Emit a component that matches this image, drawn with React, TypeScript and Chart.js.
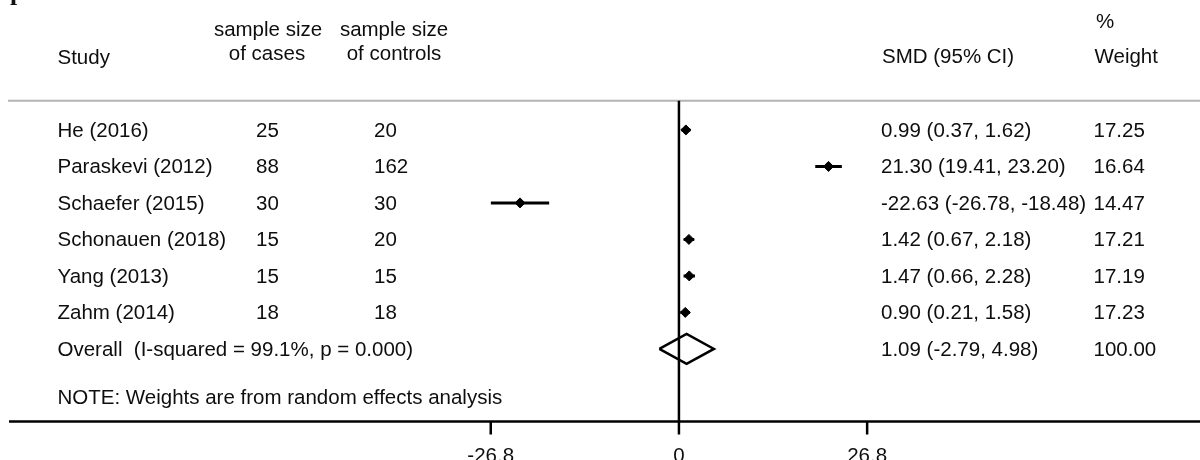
import { useEffect, useRef } from "react";
import { Chart, registerables } from "chart.js";

Chart.register(...registerables);

// Study-level data
const studies = [
  "He (2016)",
  "Paraskevi (2012)",
  "Schaefer (2015)",
  "Schonauen (2018)",
  "Yang (2013)",
  "Zahm (2014)",
];
const casesN = [25, 88, 30, 15, 15, 18];
const controlsN = [20, 162, 30, 20, 15, 18];
const smd = [0.99, 21.3, -22.63, 1.42, 1.47, 0.9];
const smdLower = [0.37, 19.41, -26.78, 0.67, 0.66, 0.21];
const smdUpper = [1.62, 23.2, -18.48, 2.18, 2.28, 1.58];
const weights = [17.25, 16.64, 14.47, 17.21, 17.19, 17.23];

// Pooled (random effects) estimate
const overallSmd = 1.09;
const overallLower = -2.79;
const overallUpper = 4.98;
const overallWeight = 100.0;
const overallLabel = "Overall  (I-squared = 99.1%, p = 0.000)";
const noteLabel = "NOTE: Weights are from random effects analysis";

// Axis ticks
const xTicks = [-26.8, 0, 26.8];

const FONT = '"Liberation Sans", Arial, Helvetica, sans-serif';
const TEXT = "#0e0e0e";
const SIZE = "20.5px";

const fmt = (v: number) => v.toFixed(2);

const forestPlugin = {
  id: "forestLayout",
  beforeDatasetsDraw(chart: any) {
    const { ctx, chartArea, scales } = chart;
    const x = scales.x;
    const y = scales.y;
    ctx.save();
    // header rule
    ctx.strokeStyle = "#b4b4b4";
    ctx.lineWidth = 2;
    ctx.beginPath();
    ctx.moveTo(8, y.getPixelForValue(-0.8));
    ctx.lineTo(chart.width, y.getPixelForValue(-0.8));
    ctx.stroke();
    // line of no effect
    ctx.strokeStyle = "#000";
    ctx.lineWidth = 2.5;
    ctx.beginPath();
    ctx.moveTo(x.getPixelForValue(0), y.getPixelForValue(-0.8));
    ctx.lineTo(x.getPixelForValue(0), chartArea.bottom);
    ctx.stroke();
    ctx.restore();
  },
  afterDraw(chart: any) {
    const { ctx, chartArea, scales } = chart;
    const x = scales.x;
    const y = scales.y;
    ctx.save();

    // bottom axis
    ctx.strokeStyle = "#000";
    ctx.lineWidth = 2.5;
    ctx.beginPath();
    ctx.moveTo(chartArea.left, chartArea.bottom);
    ctx.lineTo(chartArea.right, chartArea.bottom);
    ctx.stroke();
    ctx.fillStyle = TEXT;
    ctx.font = `${SIZE} ${FONT}`;
    ctx.textAlign = "center";
    ctx.textBaseline = "alphabetic";
    xTicks.forEach((t) => {
      const px = x.getPixelForValue(t);
      ctx.beginPath();
      ctx.moveTo(px, chartArea.bottom);
      ctx.lineTo(px, chartArea.bottom + 13);
      ctx.stroke();
      ctx.fillText(String(t), px, chartArea.bottom + 40);
    });

    // fragment of the caption above the panel
    ctx.textAlign = "left";
    ctx.font = `bold 26px "Liberation Serif", serif`;
    ctx.fillStyle = "#111";
    ctx.fillText("p", 10, 0);

    // column headers
    ctx.fillStyle = TEXT;
    ctx.font = `${SIZE} ${FONT}`;
    ctx.textAlign = "left";
    ctx.fillText("Study", 57.5, 64);
    ctx.fillText("SMD (95% CI)", 882, 63);
    ctx.fillText("Weight", 1094.5, 63);
    ctx.fillText("%", 1096, 28);
    ctx.textAlign = "center";
    ctx.fillText("sample size", 268, 36);
    ctx.fillText("of cases", 267, 60);
    ctx.fillText("sample size", 394, 36);
    ctx.fillText("of controls", 394, 60);

    // study rows
    ctx.textAlign = "left";
    studies.forEach((s, i) => {
      const base = y.getPixelForValue(i) + 7;
      ctx.fillText(s, 57.5, base);
      ctx.fillText(String(casesN[i]), 256, base);
      ctx.fillText(String(controlsN[i]), 374, base);
      ctx.fillText(
        `${fmt(smd[i])} (${fmt(smdLower[i])}, ${fmt(smdUpper[i])})`,
        881,
        base
      );
      ctx.fillText(fmt(weights[i]), 1093.5, base);
    });

    // pooled row
    const ob = y.getPixelForValue(studies.length) + 7;
    ctx.fillText(overallLabel, 57.5, ob);
    ctx.fillText(
      `${fmt(overallSmd)} (${fmt(overallLower)}, ${fmt(overallUpper)})`,
      881,
      ob
    );
    ctx.fillText(fmt(overallWeight), 1093.5, ob);

    // footnote
    ctx.fillText(noteLabel, 57.5, y.getPixelForValue(studies.length + 1.32) + 7);

    ctx.restore();
  },
};

export default function App() {
  const ref = useRef<HTMLCanvasElement>(null);

  useEffect(() => {
    document.body.style.margin = "0";
    const canvas = ref.current;
    if (!canvas) return;

    const overallRow = studies.length;
    const diamondHalf = 0.41;

    const ciSets = studies.map((s, i) => ({
      label: s,
      data: [
        { x: smdLower[i], y: i },
        { x: smdUpper[i], y: i },
      ],
      showLine: true,
      borderColor: "#000",
      borderWidth: 3,
      pointRadius: 0,
      borderCapStyle: "butt",
    }));

    const chart = new Chart(canvas, {
      type: "scatter",
      data: {
        datasets: [
          ...ciSets,
          {
            label: "SMD",
            data: smd.map((v, i) => ({ x: v, y: i })),
            pointStyle: "rectRot",
            pointRadius: 5,
            backgroundColor: "#000",
            borderColor: "#000",
            borderWidth: 1,
          },
          {
            label: "Overall",
            data: [
              { x: overallLower, y: overallRow },
              { x: overallSmd, y: overallRow - diamondHalf },
              { x: overallUpper, y: overallRow },
              { x: overallSmd, y: overallRow + diamondHalf },
              { x: overallLower, y: overallRow },
            ],
            showLine: true,
            borderColor: "#000",
            borderWidth: 2.5,
            borderJoinStyle: "miter",
            pointRadius: 0,
            fill: false,
          },
        ] as any,
      },
      options: {
        animation: false,
        responsive: false,
        devicePixelRatio: 1,
        layout: {
          autoPadding: false,
          padding: { left: 9, right: 0, top: 0, bottom: 38.5 },
        },
        plugins: {
          legend: { display: false },
          tooltip: { enabled: false },
        },
        events: [],
        scales: {
          x: { type: "linear", display: false, min: -95.4, max: 74.2 },
          y: { type: "linear", display: false, reverse: true, min: -3.56, max: 7.99 },
        },
      },
      plugins: [forestPlugin],
    });

    return () => chart.destroy();
  }, []);

  return (
    <div style={{ width: 1200, height: 460, background: "#fff" }}>
      <canvas ref={ref} width={1200} height={460} style={{ display: "block" }} />
    </div>
  );
}
